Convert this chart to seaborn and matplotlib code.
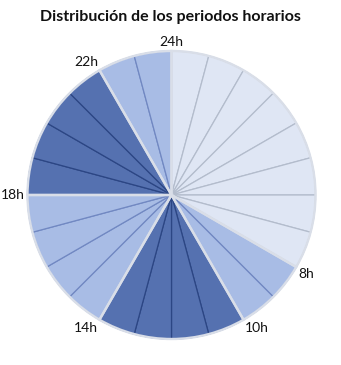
import matplotlib
matplotlib.use("Agg")
import matplotlib.pyplot as plt
import seaborn as sns
import numpy as np

# Data
period_names = ["Valle", "Llano", "Punta", "Llano", "Punta", "Llano"]
period_hours = [8, 2, 4, 4, 4, 2]
boundary_labels = ["24h", "8h", "10h", "14h", "18h", "22h"]

fill_colors = {"Valle": "#dfe6f4", "Llano": "#a8bce5", "Punta": "#5571b0"}
edge_colors = {"Valle": "#b3bccc", "Llano": "#7188c2", "Punta": "#2c4684"}

sns.set_theme(style="white")
plt.rcParams["font.family"] = ["Lato", "DejaVu Sans"]

fig = plt.figure(figsize=(3.41, 3.65), dpi=100)
R_px = 144
L = 1.2
W = 2 * L * R_px
cx, cy = 171.5, 365 - 195
ax = fig.add_axes([(cx - W / 2) / 341, (cy - W / 2) / 365, W / 341, W / 365])

# one wedge per hour
hour_period = []
for name, n in zip(period_names, period_hours):
    hour_period += [name] * n
hour_values = np.ones(len(hour_period))

wedges, _ = ax.pie(hour_values, startangle=90, counterclock=False, radius=1,
                   colors=[fill_colors[p] for p in hour_period],
                   wedgeprops=dict(linewidth=0.9))
for w, p in zip(wedges, hour_period):
    w.set_edgecolor(edge_colors[p])

# group boundaries
ax.pie(period_hours, startangle=90, counterclock=False, radius=1,
       colors=["none"] * len(period_hours),
       wedgeprops=dict(linewidth=1.7, edgecolor="#d9dee8", fill=False))

ax.set_xlim(-L, L)
ax.set_ylim(-L, L)
ax.set_aspect("equal")
ax.axis("off")

# boundary labels (placed just outside the pie, aligned away from it)
cum = np.concatenate([[0], np.cumsum(period_hours)[:-1]])
total = sum(period_hours)
for lab, c in zip(boundary_labels, cum):
    ang = np.deg2rad(90 - 360 * c / total)
    cs, sn = np.cos(ang), np.sin(ang)
    ha = "left" if cs > 0.1 else ("right" if cs < -0.1 else "center")
    va = "bottom" if sn > 0.1 else ("top" if sn < -0.1 else "center")
    r = 1.02
    ax.text(r * cs, r * sn, lab, ha=ha, va=va, fontsize=10, color="#111111")

fig.text(0.5, 1 - 17 / 365, "Distribución de los periodos horarios",
         ha="center", va="center", fontsize=11.5, fontweight="bold", color="#111111")

fig.savefig("out.png", dpi=100)
